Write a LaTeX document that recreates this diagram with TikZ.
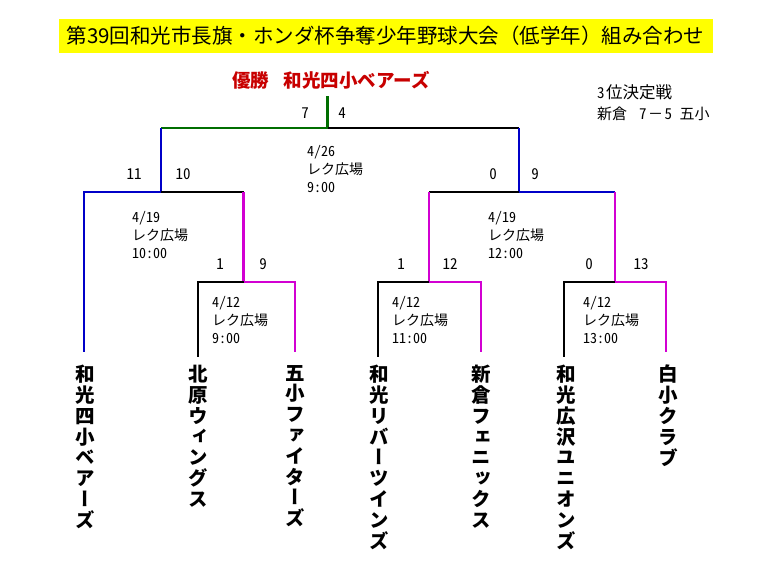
\documentclass[tikz,border=0pt]{standalone}
\usepackage{fontspec}
\setmainfont{Noto Sans CJK JP}
\newfontfamily\teamfont[RawFeature=+vert]{Noto Sans CJK JP}
\newfontfamily\hwfont[RawFeature=+hwid]{Noto Sans CJK JP}
\definecolor{bblue}{RGB}{0,0,200}
\definecolor{bgreen}{RGB}{0,110,0}
\definecolor{bmag}{RGB}{210,0,210}
\definecolor{bred}{RGB}{200,0,0}
\definecolor{tyellow}{RGB}{255,255,0}
\begin{document}
\begin{tikzpicture}[x=1pt,y=-1pt,
  ln/.style={line width=2.7pt},
  blk/.style={ln,black}, blu/.style={ln,bblue}, grn/.style={ln,bgreen}, mag/.style={ln,bmag},
  score/.style={font=\hwfont\fontsize{15}{16}\selectfont, inner sep=0},
  info/.style={font=\hwfont\fontsize{14}{18}\selectfont, align=left, anchor=west, inner sep=0},
  team/.style={font=\teamfont\bfseries\fontsize{19.5}{20.8}\selectfont, align=center, anchor=north, inner sep=0}]
\useasboundingbox[fill=white] (0,0) rectangle (768,576);

% title
\node[fill=tyellow, minimum width=654pt, minimum height=33.5pt, inner sep=0] (title) at (385.5,36)
  {\fontsize{20.5}{22}\selectfont 第39回和光市長旗・ホンダ杯争奪少年野球大会（低学年）組み合わせ};

% champion
\node[font=\bfseries\fontsize{18.5}{20}\selectfont, text=bred, inner sep=0] (champ) at (331,80) {優勝\hspace{0.8em}和光四小ベアーズ};

% third place
\node[info, anchor=north west, font=\hwfont\fontsize{15}{21}\selectfont] (third) at (597,84)
  {3\hspace{0.1em}{\fontsize{16.5}{21}\selectfont 位決定戦}\\新倉\hspace{0.8em}7\hspace{0.1em}{\rmfamily －}\hspace{0.1em}5\hspace{0.5em}五小};

% junction coordinates
\coordinate (top) at (327.5,96);
\coordinate (F) at (327.5,128);
\coordinate (Lt) at (161,128);
\coordinate (Rt) at (519,128);
\coordinate (sL) at (161,192);
\coordinate (sR) at (519,192);
\coordinate (aL) at (84,192);
\coordinate (bL) at (243.5,192);
\coordinate (aR) at (429,192);
\coordinate (bR) at (615,192);
\coordinate (q1) at (243.5,282);
\coordinate (q2) at (429,282);
\coordinate (q3) at (615,282);
\coordinate (m1l) at (198,282);
\coordinate (m1r) at (295,282);
\coordinate (m2l) at (378,282);
\coordinate (m2r) at (481,282);
\coordinate (m3l) at (564,282);
\coordinate (m3r) at (666,282);
\coordinate (e1) at (84,352);
\coordinate (e2) at (198,357);
\coordinate (e3) at (295,352);
\coordinate (e4) at (378,357);
\coordinate (e5) at (481,352);
\coordinate (e6) at (564,357);
\coordinate (e7) at (666,352);

% final
\draw[grn] (top) -- (F);
\draw[grn] (F) -- (Lt);
\draw[blk] (F) -- (Rt);
\draw[blu] (Lt) -- (sL);
\draw[blu] (Rt) -- (sR);
% semifinals
\draw[blu, line join=miter] (sL) -- (aL) -- (e1);
\draw[blk] (sL) -- (bL);
\draw[mag] (bL) -- (q1);
\draw[blk] (sR) -- (aR);
\draw[mag] (aR) -- (q2);
\draw[blu] (sR) -- (bR);
\draw[mag] (bR) -- (q3);
% first round
\draw[blk, line join=miter] (q1) -- (m1l) -- (e2);
\draw[mag, line join=miter] (q1) -- (m1r) -- (e3);
\draw[blk, line join=miter] (q2) -- (m2l) -- (e4);
\draw[mag, line join=miter] (q2) -- (m2r) -- (e5);
\draw[blk, line join=miter] (q3) -- (m3l) -- (e6);
\draw[mag, line join=miter] (q3) -- (m3r) -- (e7);

% scores
\node[score] (s7) at (305,113) {7};
\node[score] (s4) at (342,113) {4};
\node[score] (s11) at (134,174) {11};
\node[score] (s10) at (183,174) {10};
\node[score] (s0a) at (493,174) {0};
\node[score] (s9a) at (535,174) {9};
\node[score] (s1a) at (220,264) {1};
\node[score] (s9b) at (263,264) {9};
\node[score] (s1b) at (401,264) {1};
\node[score] (s12) at (450,264) {12};
\node[score] (s0b) at (589,264) {0};
\node[score] (s13) at (641,264) {13};

% match info
\node[info] (i0) at (307,169) {4/26\\レク広場\\9:00};
\node[info] (i1) at (132,235) {4/19\\レク広場\\10:00};
\node[info] (i2) at (488,235) {4/19\\レク広場\\12:00};
\node[info] (i3) at (212,320) {4/12\\レク広場\\9:00};
\node[info] (i4) at (392,320) {4/12\\レク広場\\11:00};
\node[info] (i5) at (583,320) {4/12\\レク広場\\13:00};

% teams
\node[team] (t1) at (85,365) {和\\光\\四\\小\\ベ\\ア\\ー\\ズ};
\node[team] (t2) at (198,365) {北\\原\\ウ\\ィ\\ン\\グ\\ス};
\node[team] (t3) at (295,365) {五\\小\\フ\\ァ\\イ\\タ\\ー\\ズ};
\node[team] (t4) at (379,365) {和\\光\\リ\\バ\\ー\\ツ\\イ\\ン\\ズ};
\node[team] (t5) at (481,365) {新\\倉\\フ\\ェ\\ニ\\ッ\\ク\\ス};
\node[team] (t6) at (566,365) {和\\光\\広\\沢\\ユ\\ニ\\オ\\ン\\ズ};
\node[team] (t7) at (668,365) {白\\小\\ク\\ラ\\ブ};
\end{tikzpicture}
\end{document}
